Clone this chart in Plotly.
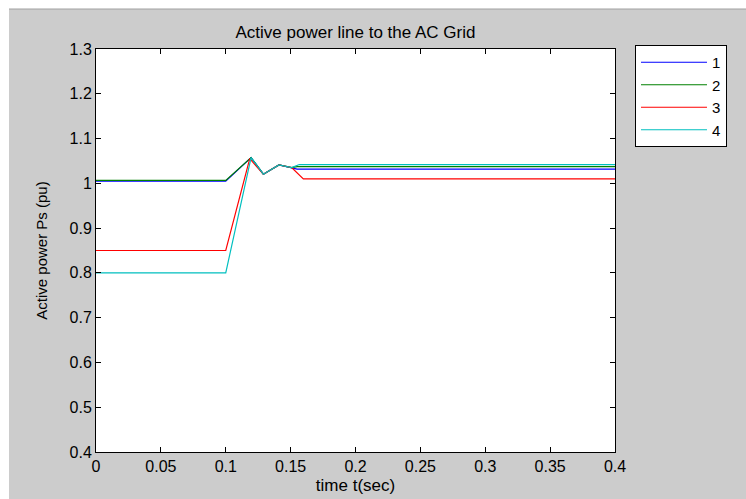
import plotly.graph_objects as go

# time breakpoints (s) and active power (pu) for each case
t_1 = [0, 0.1, 0.1195, 0.129, 0.141, 0.1508, 0.155, 0.4]
p_1 = [1.005, 1.005, 1.0576, 1.0205, 1.041, 1.035, 1.0317, 1.0317]

t_2 = [0, 0.1, 0.1195, 0.129, 0.141, 0.1508, 0.155, 0.4]
p_2 = [1.0065, 1.0065, 1.0576, 1.0205, 1.041, 1.035, 1.0375, 1.0375]

t_3 = [0, 0.1, 0.1185, 0.129, 0.141, 0.1508, 0.1598, 0.4]
p_3 = [0.85, 0.85, 1.055, 1.0205, 1.041, 1.035, 1.010, 1.010]

t_4 = [0, 0.1, 0.1195, 0.129, 0.141, 0.1508, 0.1567, 0.4]
p_4 = [0.80, 0.80, 1.0576, 1.0205, 1.041, 1.035, 1.042, 1.042]

names = ["1", "2", "3", "4"]
colors = ["#0000ff", "#008000", "#ff0000", "#00bfbf"]

x_ticks = [0, 0.05, 0.1, 0.15, 0.2, 0.25, 0.3, 0.35, 0.4]
x_tick_text = ["0", "0.05", "0.1", "0.15", "0.2", "0.25", "0.3", "0.35", "0.4"]
y_ticks = [0.4, 0.5, 0.6, 0.7, 0.8, 0.9, 1.0, 1.1, 1.2, 1.3]
y_tick_text = ["0.4", "0.5", "0.6", "0.7", "0.8", "0.9", "1", "1.1", "1.2", "1.3"]

series = [(t_1, p_1), (t_2, p_2), (t_3, p_3), (t_4, p_4)]

fig = go.Figure()
for (t, p), n, c in zip(series, names, colors):
    fig.add_trace(go.Scatter(x=t, y=p, mode="lines", name=n,
                             line=dict(color=c, width=1.2)))

FONT = "Liberation Sans, Arial, sans-serif"

fig.update_layout(
    width=746, height=499,
    margin=dict(l=96, r=131, t=49, b=47, autoexpand=False),
    paper_bgcolor="#cccccc",
    plot_bgcolor="#ffffff",
    font=dict(family=FONT, size=16, color="#000000"),
    title=dict(text="Active power line to the AC Grid", x=(96 + 615) / 2 / 746,
               xanchor="center", y=1 - 32 / 499, yanchor="middle",
               font=dict(family=FONT, size=17, color="#000000")),
    showlegend=True,
    legend=dict(x=1.0385, y=(452 - 45) / 403, xanchor="left", yanchor="top",
                bgcolor="#ffffff", bordercolor="#000000", borderwidth=1,
                font=dict(family=FONT, size=15, color="#000000"),
                itemwidth=66, entrywidth=96, entrywidthmode="pixels",
                tracegroupgap=0),
    xaxis=dict(range=[0, 0.4], tickvals=x_ticks, ticktext=x_tick_text,
               ticks="inside", ticklen=5, tickcolor="#000000",
               showline=True, linecolor="#000000", linewidth=1, mirror="ticks",
               showgrid=False, zeroline=False, automargin=False,
               title=dict(text="time t(sec)", standoff=4,
                          font=dict(family=FONT, size=17))),
    yaxis=dict(range=[0.4, 1.3], tickvals=y_ticks, ticktext=y_tick_text,
               ticks="inside", ticklen=5, tickcolor="#000000",
               showline=True, linecolor="#000000", linewidth=1, mirror="ticks",
               showgrid=False, zeroline=False, automargin=False,
               title=dict(text="Active power Ps (pu)", standoff=18,
                          font=dict(family=FONT, size=15))),
    shapes=[
        dict(type="rect", xref="paper", yref="paper", x0=-0.3, x1=1.5,
             y0=(452 - 9) / 403, y1=1.3, fillcolor="#ffffff", line_width=0,
             layer="above"),
        dict(type="rect", xref="paper", yref="paper", x0=-0.3, x1=(9 - 96) / 519,
             y0=-0.3, y1=1.3, fillcolor="#ffffff", line_width=0, layer="above"),
        dict(type="line", xref="paper", yref="paper", x0=(9 - 96) / 519, x1=1.5,
             y0=(452 - 9) / 403, y1=(452 - 9) / 403,
             line=dict(color="#a0a0a0", width=1), layer="above"),
    ],
)

fig.write_html("out.html")
